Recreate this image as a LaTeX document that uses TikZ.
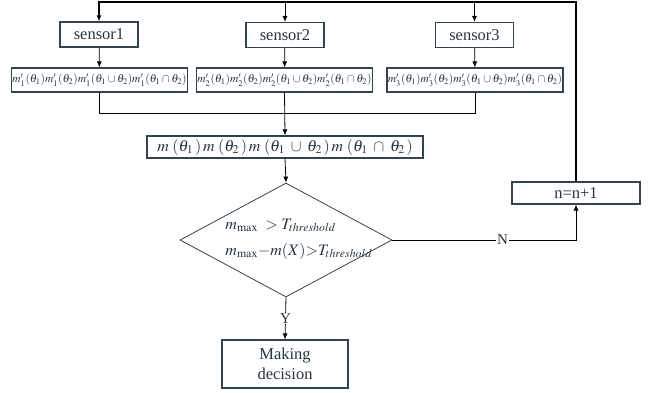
\documentclass[tikz,border=0pt]{standalone}
\usepackage{mathptmx}
\usepackage{fontspec}
\setmainfont{Liberation Serif}
\usepackage{xcolor}
\usetikzlibrary{arrows.meta,calc,positioning,shapes.geometric}

\definecolor{boxline}{RGB}{45,70,85}
\definecolor{boxtext}{RGB}{35,55,70}

\begin{document}
\begin{tikzpicture}[
  x=1pt,y=-1pt,
  flowstep/.style={rectangle,draw=boxline,line width=1.1pt,text=boxtext,align=center,inner sep=0pt,font=\fontsize{16.5}{20}\selectfont},
  massbox/.style={flowstep,minimum width=176pt,minimum height=24pt,font=\fontsize{11.5}{13}\selectfont},
  decision/.style={diamond,draw=boxline,line width=0.8pt,inner sep=0pt,minimum width=212pt,minimum height=114pt},
  line/.style={line width=0.8pt,black},
  arrow/.style={line,-{Latex[length=6pt,width=5pt]}},
  tag/.style={fill=white,inner sep=1pt,text=boxtext,font=\fontsize{15}{16}\selectfont}
]
  \useasboundingbox (0,0) rectangle (649,392);

  \node[flowstep,minimum width=78pt,minimum height=25pt] (s1) at (99,34.5) {sensor1};
  \node[flowstep,minimum width=78pt,minimum height=25pt] (s2) at (285,35) {sensor2};
  \node[flowstep,minimum width=78pt,minimum height=25pt] (s3) at (474.5,35) {sensor3};

  \node[massbox] (f1) at (99.5,80) {$m'_1(\theta_1)m'_1(\theta_2)m'_1(\theta_1\cup\theta_2)m'_1(\theta_1\cap\theta_2)$};
  \node[massbox] (f2) at (284.5,80) {$m'_2(\theta_1)m'_2(\theta_2)m'_2(\theta_1\cup\theta_2)m'_2(\theta_1\cap\theta_2)$};
  \node[massbox] (f3) at (475,80) {$m'_3(\theta_1)m'_3(\theta_2)m'_3(\theta_1\cup\theta_2)m'_3(\theta_1\cap\theta_2)$};

  \node[flowstep,minimum width=276pt,minimum height=22pt,font=\fontsize{16}{17}\selectfont] (comb) at (285,147)
    {$m\;(\theta_1\,)\,m\;(\theta_2\,)\,m\;(\theta_1\;\cup\;\theta_2\,)\,m\;(\theta_1\;\cap\;\theta_2\,)$};

  \node[decision] (check) at (286,240) {};
  \node[align=left,text=boxtext,inner sep=0pt,font=\fontsize{16}{26}\selectfont] (cond) at (299,239)
    {$m_{\max}\ > T_{threshold}$\\$m_{\max}{-}m(X){>}T_{threshold}$};

  \node[flowstep,minimum width=128pt,minimum height=22pt] (inc) at (576,193) {n=n+1};
  \node[flowstep,minimum width=126pt,minimum height=48pt] (act) at (285,364) {Making\\decision};

  \coordinate (bus) at (0,2);
  \coordinate (merge) at (0,113);

  % feedback loop back to the sensors
  \draw[arrow,line width=1.2pt] (inc.north) |- (s1.north |- bus) -- (s1.north);
  \draw[arrow] (s2.north |- bus) -- (s2.north);
  \draw[arrow] (s3.north |- bus) -- (s3.north);

  \draw[arrow] (s1) -- (f1);
  \draw[arrow] (s2) -- (f2);
  \draw[arrow] (s3) -- (f3);

  \draw[line] (f1.south) |- (f3.south |- merge) -- (f3.south);
  \draw[arrow] (f2.south) -- (comb.north);
  \draw[arrow] (comb.south) -- (check.north);

  \draw[arrow] (check.east) -| node[tag,pos=0.3] {N} (inc.south);
  \draw[arrow] (check.south) -- node[tag] {Y} (act.north);
\end{tikzpicture}
\end{document}
